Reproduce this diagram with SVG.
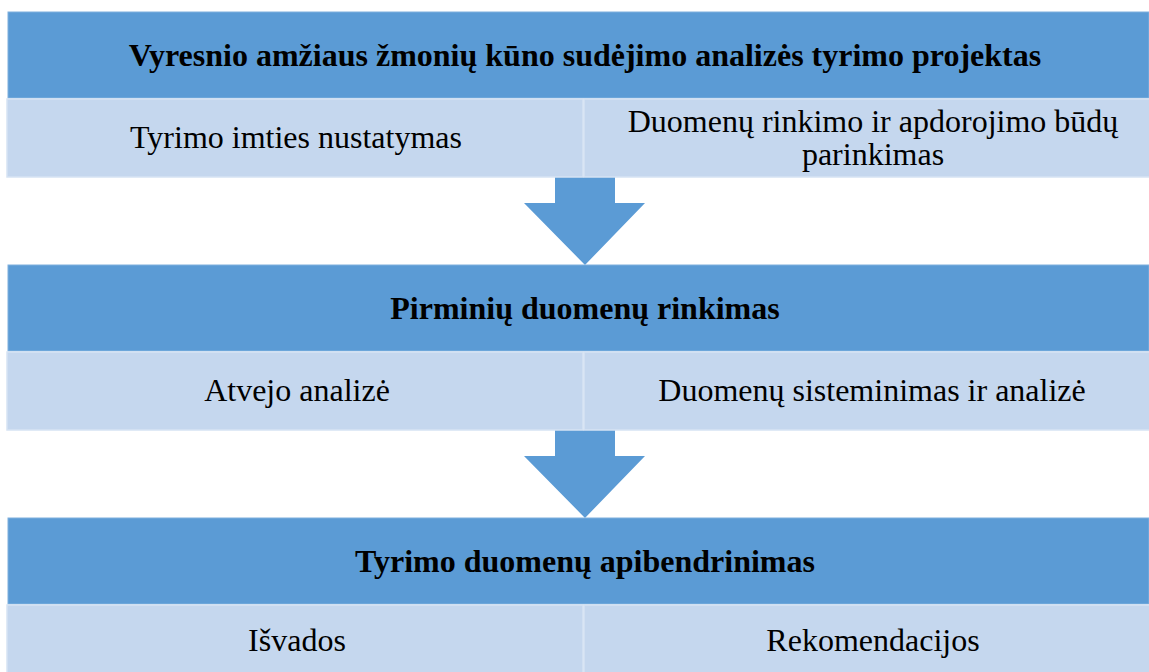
<svg xmlns="http://www.w3.org/2000/svg" width="1149" height="672" viewBox="0 0 1149 672">
<style>
.hdr{fill:#5B9BD5;stroke:#7FB0DE;stroke-width:1}
.cell{fill:#C5D7EE;stroke:#D6E3F3;stroke-width:1.5}
.arr{fill:#5B9BD5}
.ht{font-family:"Liberation Serif",serif;font-weight:bold;font-size:32px;fill:#000;text-anchor:middle}
.ct{font-family:"Liberation Serif",serif;font-size:32px;fill:#000;text-anchor:middle}
</style>
<rect width="1149" height="672" fill="#fff"/>
<g id="connectors">
<polygon class="arr" points="555,177 615,177 615,203 645,203 585,265 524,203 555,203"/>
<polygon class="arr" points="555,430 615,430 615,456 645,456 585,518 524,456 555,456"/>
</g>
<g id="header1"><rect class="hdr" x="8" y="12" width="1141" height="86"/><text class="ht" x="585" y="66">Vyresnio amžiaus žmonių kūno sudėjimo analizės tyrimo projektas</text></g>
<g id="cell1a"><rect class="cell" x="7" y="99" width="576" height="78"/><text class="ct" x="296" y="148">Tyrimo imties nustatymas</text></g>
<g id="cell1b"><rect class="cell" x="584" y="99" width="566" height="78"/><text class="ct" x="873" y="132">Duomenų rinkimo ir apdorojimo būdų</text><text class="ct" x="873" y="165">parinkimas</text></g>
<g id="header2"><rect class="hdr" x="8" y="265" width="1141" height="86"/><text class="ht" x="585" y="319">Pirminių duomenų rinkimas</text></g>
<g id="cell2a"><rect class="cell" x="7" y="352" width="576" height="78"/><text class="ct" x="297" y="401">Atvejo analizė</text></g>
<g id="cell2b"><rect class="cell" x="584" y="352" width="566" height="78"/><text class="ct" x="872" y="401">Duomenų sisteminimas ir analizė</text></g>
<g id="header3"><rect class="hdr" x="8" y="518" width="1141" height="86"/><text class="ht" x="585" y="572">Tyrimo duomenų apibendrinimas</text></g>
<g id="cell3a"><rect class="cell" x="7" y="605" width="576" height="78"/><text class="ct" x="297" y="651">Išvados</text></g>
<g id="cell3b"><rect class="cell" x="584" y="605" width="566" height="78"/><text class="ct" x="873" y="651">Rekomendacijos</text></g>
</svg>
